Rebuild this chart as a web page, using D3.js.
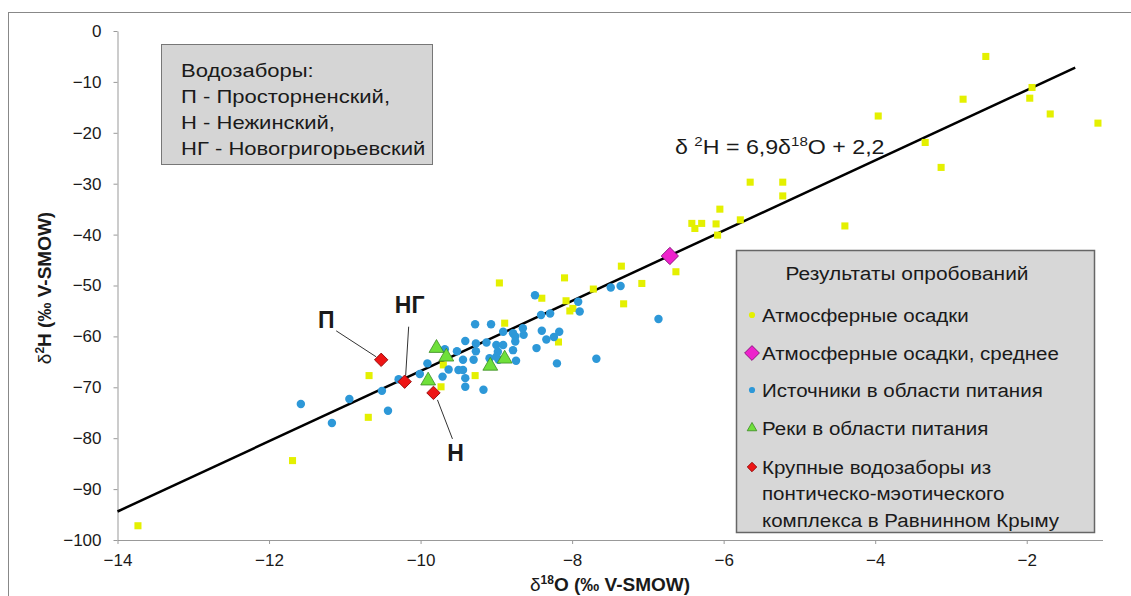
<!DOCTYPE html>
<html lang="ru">
<head>
<meta charset="UTF-8">
<title>δ2H – δ18O</title>
<script src="https://cdn.jsdelivr.net/npm/d3@7"></script>
<style>
  body { margin: 0; background: #fff; }
  svg text { font-family: "Liberation Sans", Arial, sans-serif; fill: #1a1a1a; }
</style>
</head>
<body>
<div class="chart"></div>
<script>
    // атмосферные осадки
    const precip = [
        [-13.73, -97.2], [-11.69, -84.4], [-10.68, -67.7], [-10.69, -75.9], [-9.70, -65.6],
        [-9.73, -69.9], [-9.28, -67.7], [-8.96, -49.5], [-8.89, -57.4], [-8.40, -52.5],
        [-8.10, -48.5], [-8.08, -53.0], [-8.03, -55.0], [-7.99, -54.5], [-8.18, -61.1],
        [-7.72, -50.7], [-7.35, -46.2], [-7.08, -49.6], [-7.32, -53.6], [-6.63, -47.3],
        [-6.08, -40.1], [-6.42, -37.8], [-6.29, -37.8], [-6.38, -38.8], [-6.10, -37.9],
        [-6.05, -35.0], [-5.78, -37.1], [-5.65, -29.7], [-5.22, -29.7], [-5.22, -32.4],
        [-4.40, -38.3], [-3.96, -16.7], [-3.34, -21.9], [-3.13, -26.8], [-2.84, -13.4],
        [-2.54, -5.0], [-1.93, -11.1], [-1.96, -13.2], [-1.69, -16.3], [-1.06, -18.1]
    ]
    // атмосферные осадки, среднее
    const precipMean = [[-6.71, -44.2]]
    // источники в области питания
    const springs = [
        [-11.58, -73.3], [-11.17, -77.0], [-10.94, -72.3], [-10.51, -70.7], [-10.43, -74.6],
        [-10.29, -68.4], [-10.01, -67.4], [-9.91, -65.3], [-9.71, -67.9], [-9.68, -62.5],
        [-9.52, -62.9], [-9.63, -66.5], [-9.50, -66.6], [-9.44, -66.6], [-9.41, -68.2],
        [-9.41, -69.9], [-9.44, -64.6], [-9.41, -60.9], [-9.28, -57.6], [-9.07, -57.6],
        [-9.30, -64.6], [-9.27, -62.9], [-9.27, -61.4], [-9.13, -61.2], [-9.09, -64.3],
        [-9.00, -61.7], [-8.98, -63.0], [-8.91, -61.7], [-8.91, -59.1], [-8.97, -64.6],
        [-9.17, -70.5], [-8.78, -59.4], [-8.75, -61.0], [-8.78, -62.7], [-8.74, -64.8],
        [-8.65, -58.4], [-8.64, -59.7], [-8.75, -60.0], [-9.00, -64.0], [-8.49, -51.9],
        [-8.41, -55.8], [-8.29, -55.5], [-8.40, -58.9], [-8.34, -60.6], [-8.47, -62.3],
        [-8.24, -60.1], [-8.17, -59.1], [-8.20, -65.3], [-7.92, -53.2], [-7.90, -55.1],
        [-7.49, -50.4], [-7.36, -50.1], [-6.86, -56.6], [-7.68, -64.4]
    ]
    // реки в области питания
    const rivers = [[-9.79, -62.3], [-9.66, -64.0], [-9.90, -68.7], [-9.08, -65.8], [-8.89, -64.4]]
    // крупные водозаборы
    const intakeNames = ['П', 'НГ', 'Н']
    const intakes = [[-10.52, -64.6], [-10.21, -68.9], [-9.83, -71.1]]
    // линия регрессии δ2H = 6,9δ18O + 2,2
    const trend = [[-14, -94.4], [-1.36, -7.2]]

    const xTicks = [-14, -12, -10, -8, -6, -4, -2]
    const yTicks = [0, -10, -20, -30, -40, -50, -60, -70, -80, -90, -100]
    const legendTitle = 'Результаты опробований'
    const legendItems = ['Атмосферные осадки', 'Атмосферные осадки, среднее', 'Источники в области питания',
        'Реки в области питания', ['Крупные водозаборы из', 'понтическо-мэотического', 'комплекса в Равнинном Крыму']]
    const noteLines = ['Водозаборы:', 'П - Просторненский,', 'Н - Нежинский,', 'НГ - Новогригорьевский']

    const width = 1131
    const height = 596
    const colors = {
        precip: '#e4f000', mean: '#ee22cc', spring: '#2d98d8', river: '#6fe03a', intake: '#ee1515'
    }

    const x = d3.scaleLinear().domain([-14, -1]).range([117.5, 1102.5])
    const y = d3.scaleLinear().domain([-100, 0]).range([540, 31])

    const svg = d3.select('.chart').append('svg')
        .attr('width', width)
        .attr('height', height)

    // текст в исходнике немного растянут по горизонтали
    function wideText(parent, tx, ty, str, size, stretch, anchor) {
        return parent.append('g')
            .attr('transform', `translate(${tx}, ${ty}) scale(${stretch}, 1)`)
            .append('text')
            .attr('font-size', size + 'px')
            .attr('text-anchor', anchor || 'start')
            .text(str)
    }

    // рамка
    svg.append('rect')
        .attr('x', 8.5).attr('y', 12.5).attr('width', 1200).attr('height', 700)
        .attr('fill', 'none').attr('stroke', '#888')

    // оси
    const gx = svg.append('g')
        .attr('transform', `translate(0, ${y(-100)})`)
        .call(d3.axisBottom(x).tickValues(xTicks).tickSize(4).tickPadding(10).tickSizeOuter(0))
    const gy = svg.append('g')
        .attr('transform', `translate(${x(-14)}, 0)`)
        .call(d3.axisLeft(y).tickValues(yTicks).tickSize(4).tickPadding(12).tickSizeOuter(0))
    ;[gx, gy].forEach(g => {
        g.select('.domain').attr('stroke', '#999')
        g.selectAll('.tick line').attr('stroke', '#999')
        g.selectAll('.tick text').attr('font-size', '17px').attr('fill', '#1a1a1a')
            .attr('font-family', '"Liberation Sans", Arial, sans-serif')
    })

    // подписи осей
    const xTitle = svg.append('text')
        .attr('x', 610).attr('y', 591)
        .attr('text-anchor', 'middle')
        .attr('font-size', '19px').attr('font-weight', 'bold')
    xTitle.append('tspan').attr('font-weight', 'normal').text('δ')
    xTitle.append('tspan').attr('font-size', '12px').attr('dy', -7).text('18')
    xTitle.append('tspan').attr('dy', 7).text('O (‰ V-SMOW)')

    const yTitle = svg.append('text')
        .attr('transform', 'translate(51, 288) rotate(-90)')
        .attr('text-anchor', 'middle')
        .attr('font-size', '19px').attr('font-weight', 'bold')
    yTitle.append('tspan').attr('font-weight', 'normal').text('δ')
    yTitle.append('tspan').attr('font-size', '12px').attr('dy', -7).text('2')
    yTitle.append('tspan').attr('dy', 7).text('H (‰ V-SMOW)')

    // линия тренда
    svg.append('path')
        .attr('d', d3.line().x(d => x(d[0])).y(d => y(d[1]))(trend))
        .attr('fill', 'none').attr('stroke', '#000').attr('stroke-width', 2.5)

    const eq = wideText(svg, 675, 154, '', 20, 1.16)
    eq.append('tspan').text('δ ')
    eq.append('tspan').attr('font-size', '13px').attr('dy', -8).text('2')
    eq.append('tspan').attr('dy', 8).text('H = 6,9δ')
    eq.append('tspan').attr('font-size', '13px').attr('dy', -8).text('18')
    eq.append('tspan').attr('dy', 8).text('O + 2,2')

    // точки
    const sym = (type, size) => d3.symbol().type(type).size(size)()

    svg.append('g').selectAll('path')
        .data(precip).enter().append('path')
        .attr('transform', d => `translate(${x(d[0])}, ${y(d[1])})`)
        .attr('d', sym(d3.symbolSquare, 50))
        .attr('fill', colors.precip)

    svg.append('g').selectAll('path')
        .data(springs).enter().append('path')
        .attr('transform', d => `translate(${x(d[0])}, ${y(d[1])})`)
        .attr('d', sym(d3.symbolCircle, 56))
        .attr('fill', colors.spring)

    svg.append('g').selectAll('path')
        .data(rivers).enter().append('path')
        .attr('transform', d => `translate(${x(d[0])}, ${y(d[1])})`)
        .attr('d', sym(d3.symbolTriangle, 95))
        .attr('fill', colors.river).attr('stroke', '#3a8a22').attr('stroke-width', 0.8)

    svg.append('g').selectAll('path')
        .data(precipMean).enter().append('path')
        .attr('transform', d => `translate(${x(d[0])}, ${y(d[1])}) rotate(45)`)
        .attr('d', sym(d3.symbolSquare, 150))
        .attr('fill', colors.mean).attr('stroke', '#7a1070').attr('stroke-width', 0.8)

    // водозаборы с подписями
    const labelPos = { 'П': [-55, -40, -45, -29, -5, -3], 'НГ': [5, -77, 4, -55, 1, -6], 'Н': [22, 60, 4, 7, 19, 46] }
    const gi = svg.append('g')
    intakes.forEach((d, i) => {
        const px = x(d[0]), py = y(d[1])
        const p = labelPos[intakeNames[i]]
        gi.append('line')
            .attr('x1', px + p[2]).attr('y1', py + p[3])
            .attr('x2', px + p[4]).attr('y2', py + p[5])
            .attr('stroke', '#333').attr('stroke-width', 1)
        gi.append('path')
            .attr('transform', `translate(${px}, ${py}) rotate(45)`)
            .attr('d', sym(d3.symbolSquare, 90))
            .attr('fill', colors.intake).attr('stroke', '#8a0000').attr('stroke-width', 0.8)
        gi.append('text')
            .attr('x', px + p[0]).attr('y', py + p[1] + 8)
            .attr('text-anchor', 'middle')
            .attr('font-size', '23px').attr('font-weight', 'bold')
            .text(intakeNames[i])
    })

    // блок с названиями водозаборов
    const note = svg.append('g')
    note.append('rect')
        .attr('x', 161.5).attr('y', 44.5).attr('width', 271).attr('height', 120)
        .attr('fill', '#d5d5d5').attr('stroke', '#777')
    noteLines.forEach((t, i) => wideText(note, 181, 77 + i * 26, t, 19, 1.16))

    // легенда
    const lg = svg.append('g')
    lg.append('rect')
        .attr('x', 736.5).attr('y', 250.5).attr('width', 358).attr('height', 282)
        .attr('fill', '#d7d7d7').attr('stroke', '#666').attr('stroke-width', 1.5)
    wideText(lg, 907, 280, legendTitle, 19, 1.1, 'middle')
    const itemY = [315, 353, 390, 428, 467]
    const legendMarks = [
        { d: sym(d3.symbolCircle, 30), fill: colors.precip, stroke: 'none', rot: 0 },
        { d: sym(d3.symbolSquare, 110), fill: colors.mean, stroke: '#7a1070', rot: 45 },
        { d: sym(d3.symbolCircle, 30), fill: colors.spring, stroke: 'none', rot: 0 },
        { d: sym(d3.symbolTriangle, 40), fill: colors.river, stroke: '#3a8a22', rot: 0 },
        { d: sym(d3.symbolSquare, 45), fill: colors.intake, stroke: '#8a0000', rot: 45 }
    ]
    legendItems.forEach((item, i) => {
        const m = legendMarks[i]
        lg.append('path')
            .attr('transform', `translate(752, ${itemY[i]}) rotate(${m.rot})`)
            .attr('d', m.d).attr('fill', m.fill).attr('stroke', m.stroke).attr('stroke-width', 0.8)
        const lines = Array.isArray(item) ? item : [item]
        lines.forEach((t, j) => wideText(lg, 762, itemY[i] + 6.5 + j * 26.5, t, 19, 1.08))
    })
</script>
</body>
</html>
